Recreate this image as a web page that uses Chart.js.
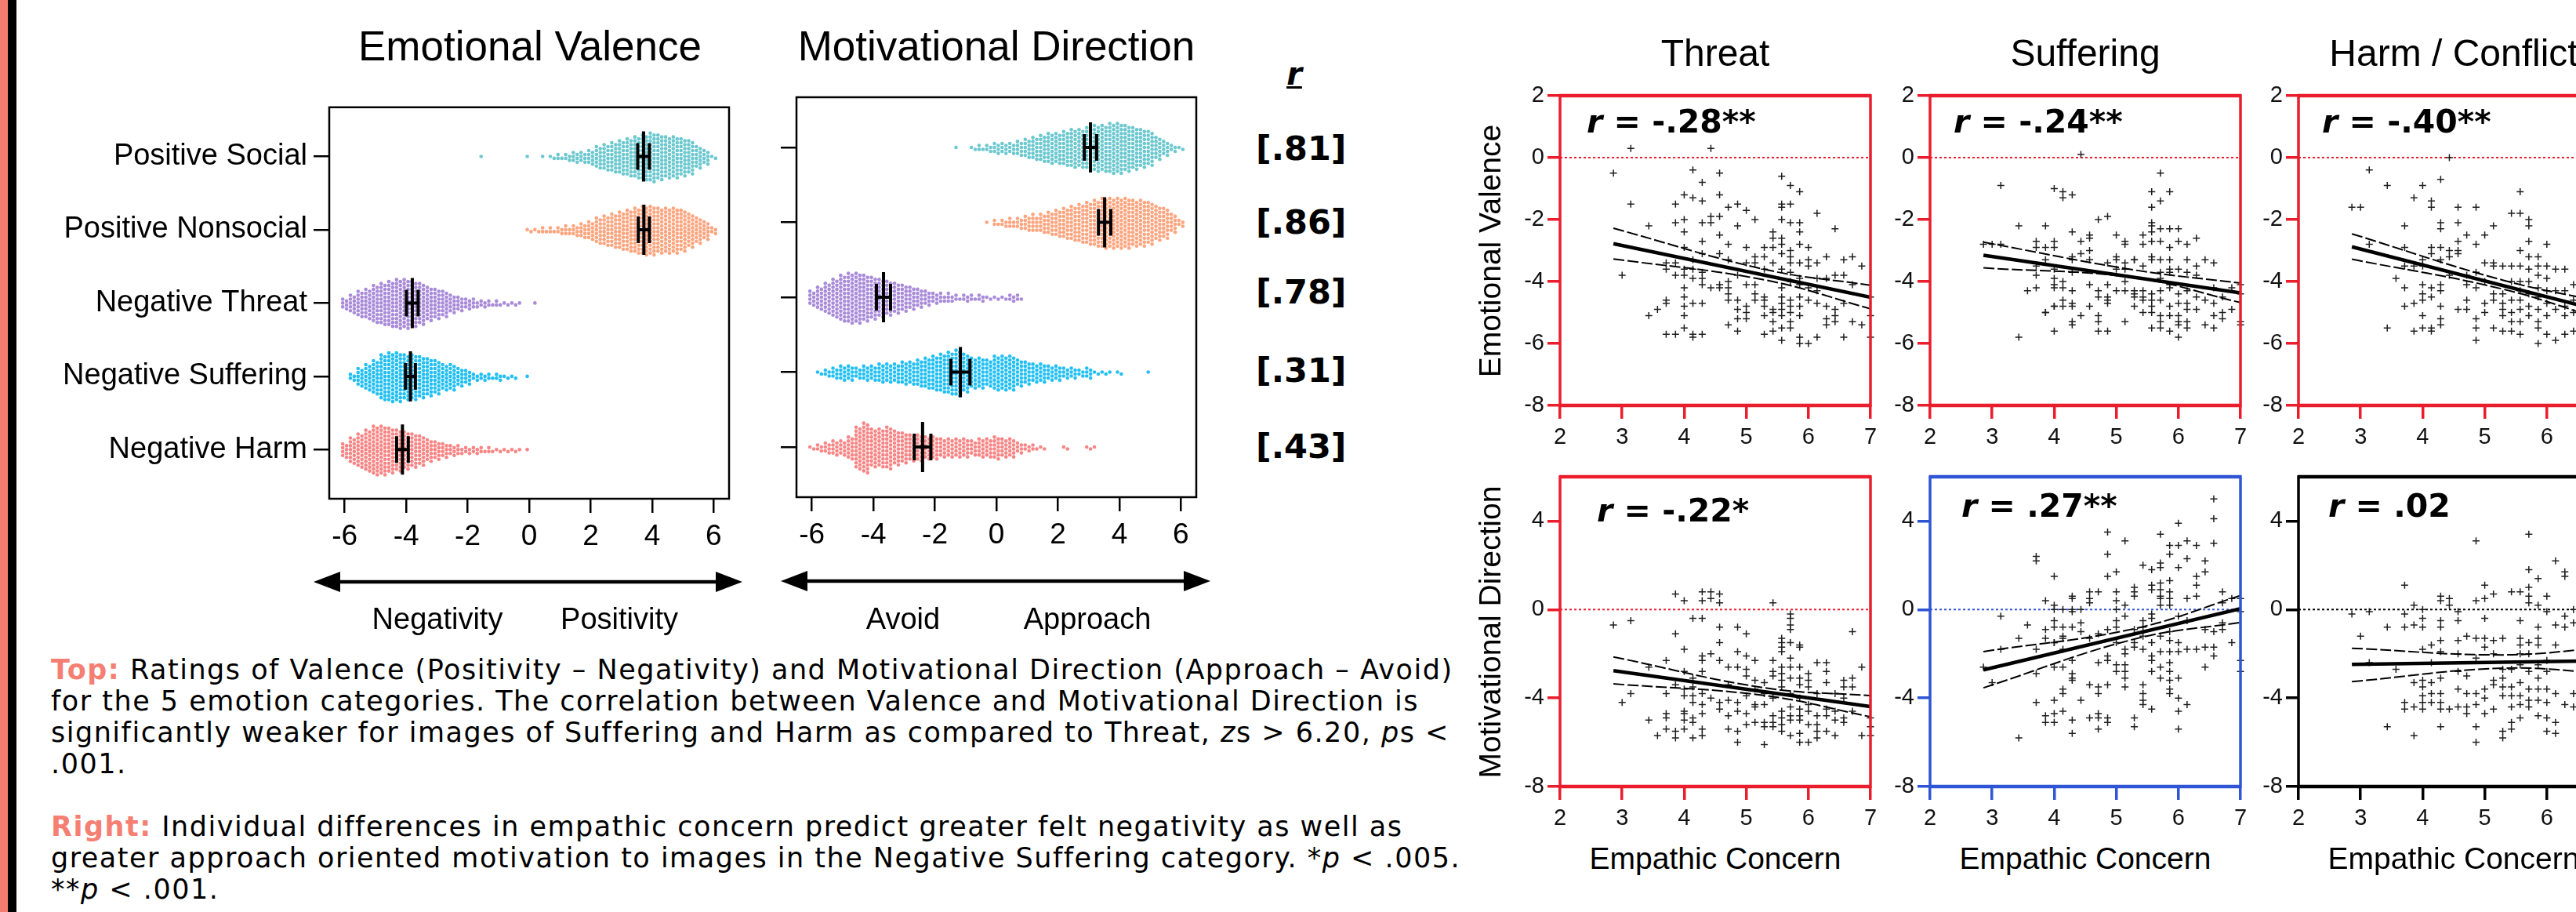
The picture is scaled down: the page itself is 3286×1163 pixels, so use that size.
<!DOCTYPE html>
<html lang="en">
<head>
<meta charset="UTF-8">
<title>Emotion ratings and empathic concern</title>
<script src="https://cdn.jsdelivr.net/npm/chart.js"></script>
<style>
  html, body { margin: 0; padding: 0; background: #fff; }
  body { width: 3286px; height: 1163px; position: relative; overflow: hidden;
         font-family: "Liberation Sans", Arial, sans-serif; color: #000; }
  canvas { position: absolute; }
  .t { position: absolute; white-space: nowrap; line-height: 1; }
  .c { transform: translateX(-50%); }
  .title { font-size: 53px; }
  .ptitle { font-size: 48px; }
  .pole { font-size: 38px; }
  .axlab { font-size: 39px; }
  .rot { font-size: 39px; transform: translate(-50%, -50%) rotate(-90deg); line-height: 1; }
  .rval { font-family: "DejaVu Sans", sans-serif; font-weight: bold; font-size: 43px; left: 1602px; }
  .rlab { font-family: "DejaVu Sans", sans-serif; font-weight: bold; font-size: 41px; }
  .caption { position: absolute; left: 65px; font-family: "DejaVu Sans", sans-serif;
             font-size: 35px; line-height: 40px; letter-spacing: 1.5px; white-space: nowrap; }
  .hl { color: #f47f72; font-weight: bold; }
</style>
</head>
<body>
  <div style="position:absolute;left:0;top:0;width:10px;height:1163px;background:#f47b70"></div>
  <div style="position:absolute;left:10px;top:0;width:11px;height:1163px;background:#000"></div>

  <canvas id="evChart" width="950" height="610" style="left:0;top:106px"></canvas>
  <canvas id="mdChart" width="570" height="610" style="left:976px;top:104px"></canvas>

  <div class="t c title" style="left:676px;top:32px">Emotional Valence</div>
  <div class="t c title" style="left:1271px;top:32px">Motivational Direction</div>

  <div class="t c" style="left:1651px;top:74px;font-family:'DejaVu Sans',sans-serif;font-size:40px;font-weight:bold;font-style:italic;text-decoration:underline;text-decoration-thickness:3px">r</div>
  <div class="t rval" style="top:168px">[.81]</div>
  <div class="t rval" style="top:262px">[.86]</div>
  <div class="t rval" style="top:351px">[.78]</div>
  <div class="t rval" style="top:451px">[.31]</div>
  <div class="t rval" style="top:548px">[.43]</div>

  <svg style="position:absolute;left:0;top:0" width="1600" height="800">
    <g fill="#000" stroke="#000">
      <line x1="430" y1="742" x2="917" y2="742" stroke-width="4.5"/>
      <polygon points="400,742 434,729 434,755" stroke="none"/>
      <polygon points="947,742 913,729 913,755" stroke="none"/>
      <line x1="1026" y1="741" x2="1514" y2="741" stroke-width="4.5"/>
      <polygon points="996,741 1030,728 1030,754" stroke="none"/>
      <polygon points="1544,741 1510,728 1510,754" stroke="none"/>
    </g>
  </svg>
  <div class="t c pole" style="left:558px;top:770px">Negativity</div>
  <div class="t c pole" style="left:790px;top:770px">Positivity</div>
  <div class="t c pole" style="left:1152px;top:770px">Avoid</div>
  <div class="t c pole" style="left:1387px;top:770px">Approach</div>

  <div class="caption" style="top:834px"><span class="hl">Top:</span> Ratings of Valence (Positivity – Negativity) and Motivational Direction (Approach – Avoid)<br>for the 5 emotion categories. The correlation between Valence and Motivational Direction is<br>significantly weaker for images of Suffering and Harm as compared to Threat, <i>z</i>s &gt; 6.20, <i>p</i>s &lt;<br>.001.</div>
  <div class="caption" style="top:1034px"><span class="hl">Right:</span> Individual differences in empathic concern predict greater felt negativity as well as<br>greater approach oriented motivation to images in the Negative Suffering category. *<i>p</i> &lt; .005.<br>**<i>p</i> &lt; .001.</div>

  <canvas id="p1" width="496" height="485" style="left:1920px;top:92px"></canvas>
  <canvas id="p2" width="496" height="485" style="left:2392px;top:92px"></canvas>
  <canvas id="p3" width="496" height="485" style="left:2862px;top:92px"></canvas>
  <canvas id="p4" width="496" height="485" style="left:1920px;top:578px"></canvas>
  <canvas id="p5" width="496" height="485" style="left:2392px;top:578px"></canvas>
  <canvas id="p6" width="496" height="485" style="left:2862px;top:578px"></canvas>

  <div class="t c ptitle" style="left:2188px;top:44px">Threat</div>
  <div class="t c ptitle" style="left:2660px;top:44px">Suffering</div>
  <div class="t c ptitle" style="left:3130px;top:44px">Harm / Conflict</div>

  <div class="t rot" style="left:1900px;top:320px">Emotional Valence</div>
  <div class="t rot" style="left:1900px;top:806px">Motivational Direction</div>

  <div class="t c axlab" style="left:2188px;top:1075px">Empathic Concern</div>
  <div class="t c axlab" style="left:2660px;top:1075px">Empathic Concern</div>
  <div class="t c axlab" style="left:3130px;top:1075px">Empathic Concern</div>

  <div class="t rlab" style="left:2024px;top:135px"><i>r</i> = -.28**</div>
  <div class="t rlab" style="left:2492px;top:135px"><i>r</i> = -.24**</div>
  <div class="t rlab" style="left:2962px;top:135px"><i>r</i> = -.40**</div>
  <div class="t rlab" style="left:2037px;top:631px"><i>r</i> = -.22*</div>
  <div class="t rlab" style="left:2502px;top:625px"><i>r</i> = .27**</div>
  <div class="t rlab" style="left:2970px;top:625px"><i>r</i> = .02</div>

<script>
// categories and colours of the beeswarm rows
const categories = ['Positive Social', 'Positive Nonsocial', 'Negative Threat', 'Negative Suffering', 'Negative Harm'];
const rowColors = ['#6cc8cf', '#fca57f', '#a98bd9', '#22bff2', '#f88585'];
const ratingTicks = [-6, -4, -2, 0, 2, 4, 6];

// beeswarm: number of images per 0.25-wide rating bin, first bin centre given separately
const binWidth = 0.25;
const evStarts = [-1.5, 0.0, -6.0, -5.75, -6.0];
const evPositiveSocial = [1,0,0,0,0,0,1,0,1,2,3,4,6,6,8,12,14,16,18,20,22,24,26,24,22,22,20,18,12,8,2];
const evPositiveNonsocial = [2,2,3,3,4,5,6,8,10,14,16,18,20,22,24,26,26,24,24,24,22,18,14,10,4];
const evNegativeThreat = [6,10,14,16,20,22,24,26,26,24,22,18,16,14,10,8,6,5,4,3,3,2,2,1,0,1];
const evNegativeSuffering = [4,10,14,18,24,26,26,24,24,22,20,18,14,14,10,8,4,4,3,4,2,2,0,1];
const evNegativeHarm = [8,14,18,22,26,26,24,22,20,18,16,12,10,8,6,5,4,4,3,3,2,2,2,1,1];
const evMeans = [3.72, 3.73, -3.80, -3.86, -4.12];
const evCI = [0.19, 0.18, 0.19, 0.16, 0.19];

const mdStarts = [-1.25, -0.25, -6.0, -5.75, -6.0];
const mdPositiveSocial = [1,0,2,3,4,6,6,6,8,10,12,14,16,16,18,20,20,22,24,24,26,26,24,22,20,18,12,8,4,2];
const mdPositiveNonsocial = [1,3,4,5,6,8,9,10,12,14,16,18,20,22,24,26,26,26,26,24,24,22,18,16,10,4];
const mdNegativeThreat = [8,12,16,20,24,26,26,24,22,20,18,16,14,12,10,8,6,5,5,3,4,3,4,2,2,2,4,3];
const mdNegativeSuffering = [2,4,6,8,8,6,8,8,10,10,10,12,12,14,16,18,20,22,24,20,16,16,14,18,18,18,14,12,10,10,8,8,6,6,4,6,2,2,1,2,0,0,0,1];
const mdNegativeHarm = [2,4,6,8,8,12,22,26,20,20,22,18,16,14,14,12,12,10,10,10,10,8,10,10,12,10,10,6,4,3,2,0,0,2,0,0,2,1];
const mdMeans = [3.06, 3.52, -3.67, -1.17, -2.40];
const mdCI = [0.20, 0.20, 0.23, 0.31, 0.27];

// scatter panels: each entry is [empathic concern, rating, rating, ...]
const ecTicks = [2, 3, 4, 5, 6, 7];
const valTicks = [2, 0, -2, -4, -6, -8];
const dirTicks = [4, 0, -4, -8];

const valThreat = [
  [2.86,-0.5],[3.0,-3.8],[3.14,0.3,-1.5],[3.43,-2.2,-5.1],[3.57,-4.9],
  [3.71,-3.4,-3.6,-4.6,-4.7,-5.7],[3.86,-1.5,-2.1,-3.4,-3.8,-5.7],
  [4.0,-1.2,-2.0,-2.4,-2.9,-3.6,-3.8,-4.2,-4.5,-4.8,-5.1,-5.5],
  [4.14,-0.4,-1.3,-3.3,-3.6,-3.9,-4.7,-5.7,-5.8],
  [4.29,-0.8,-1.4,-2.1,-2.7,-3.1,-3.7,-3.9,-4.1,-4.7,-5.7],
  [4.43,0.3,-1.9,-2.1,-4.2],[4.57,-0.5,-1.2,-1.9,-2.5,-3.1,-4.1,-4.2],
  [4.71,-1.6,-2.8,-3.3,-4.0,-4.2,-4.4,-4.6,-5.4],[4.86,-1.5,-2.2,-3.8,-4.6,-4.9,-5.2,-5.6],
  [5.0,-1.7,-2.9,-3.4,-4.1,-4.8,-5.0,-5.2],[5.14,-2.0,-3.2,-3.4,-4.1,-4.4,-4.6],
  [5.29,-2.9,-3.2,-3.6,-4.5,-4.6,-4.8,-5.1,-5.7],[5.43,-2.4,-2.6,-2.9,-3.4,-4.9,-5.0,-5.3,-5.6],
  [5.57,-0.6,-1.5,-1.6,-2.0,-2.6,-2.8,-3.1,-3.6,-4.2,-4.5,-4.7,-4.9,-5.1,-5.5,-5.9],
  [5.71,-0.9,-1.5,-2.1,-3.0,-3.2,-3.4,-3.7,-4.0,-4.6,-4.8,-5.0,-5.3,-5.5],
  [5.86,-1.1,-2.1,-2.4,-2.8,-3.4,-3.9,-4.1,-4.5,-4.8,-5.1,-5.8,-6.0],
  [6.0,-2.9,-3.3,-3.5,-4.2,-4.6,-6.0],[6.14,-1.8,-3.4,-3.9,-4.3,-4.7,-5.8],
  [6.29,-3.2,-3.9,-4.8,-5.2,-5.4],[6.43,-2.3,-3.8,-4.9,-5.1,-5.3],[6.57,-3.3,-3.8,-4.7,-5.8],
  [6.71,-3.2,-4.1,-5.3],[6.86,-3.5,-5.4],[7.0,-4.5,-5.1,-5.8]
];
const valSuffering = [
  [2.86,-2.8],[3.0,-2.8],[3.14,-0.9,-2.8],[3.43,-2.2,-5.8],[3.57,-4.3],
  [3.71,-2.7,-2.9,-3.5,-3.8,-4.2],[3.86,-2.2,-2.9,-3.3,-5.0,-5.0],
  [4.0,-1.0,-2.7,-2.9,-3.6,-3.9,-4.1,-4.2,-4.8,-4.8,-5.6],[4.14,-1.1,-1.3,-4.0,-4.2,-4.6,-4.8],
  [4.29,-1.2,-2.4,-3.2,-3.3,-3.7,-4.3,-4.7,-4.8,-5.3,-5.4],[4.43,0.1,-2.7,-3.1,-5.1],
  [4.57,-2.5,-2.6,-3.0,-3.3,-4.1,-4.8],[4.71,-2.0,-4.3,-4.5,-5.1,-5.3,-5.6],
  [4.86,-1.9,-3.4,-4.1,-4.5,-4.6,-4.7,-5.6],[5.0,-2.5,-3.2,-3.3,-3.6,-4.3],
  [5.14,-2.7,-2.8,-3.4,-3.6,-4.0,-4.3,-5.3],[5.29,-3.3,-3.3,-4.3,-4.4,-4.5,-4.8],
  [5.43,-2.5,-2.8,-3.5,-4.3,-4.5,-4.6,-5.0],
  [5.57,-1.1,-1.6,-2.1,-2.2,-2.4,-2.7,-3.2,-3.3,-4.4,-4.6,-4.8,-5.0,-5.5],
  [5.71,-0.5,-1.4,-2.3,-2.7,-3.3,-3.7,-3.9,-4.3,-4.6,-5.1,-5.3,-5.5],
  [5.86,-1.1,-2.3,-2.9,-3.3,-3.6,-3.7,-4.1,-4.2,-4.8,-5.1,-5.6],
  [6.0,-2.3,-2.7,-3.6,-4.4,-4.7,-5.1,-5.3,-5.4,-5.8],[6.14,-2.8,-3.3,-3.7,-4.3,-4.7,-4.9,-5.3,-5.5],
  [6.29,-2.6,-3.5,-3.8,-4.5,-4.9],[6.43,-3.3,-4.6,-5.4],[6.57,-3.4,-4.2,-4.7,-5.1,-5.5],
  [6.71,-4.5,-5.0,-5.2],[6.86,-4.2,-4.9],[7.0,-4.1,-4.4,-5.3,-5.4]
];
const valHarm = [
  [2.86,-1.6],[3.0,-1.6],[3.14,-0.4,-2.8],[3.43,-0.9,-5.5],[3.57,-3.9],
  [3.71,-2.2,-2.9,-3.5,-4.2,-4.8],[3.86,-1.3,-3.5,-4.7,-5.6],
  [4.0,-0.9,-3.3,-3.5,-4.1,-4.4,-4.6,-5.1,-5.5],[4.14,-1.4,-1.6,-2.9,-3.1,-4.2,-4.5,-5.5,-5.6],
  [4.29,-0.7,-2.1,-2.3,-2.9,-3.3,-4.1,-4.3,-4.8,-5.2,-5.4],[4.43,0.0,-3.0,-3.2,-3.8],
  [4.57,-1.6,-2.1,-2.7,-3.0,-3.1,-4.9],[4.71,-2.5,-3.8,-4.1,-4.6,-4.9],
  [4.86,-1.6,-2.8,-3.7,-4.2,-5.2,-5.5,-5.9],[5.0,-2.5,-3.4,-4.0,-4.7,-5.0],
  [5.14,-2.2,-3.4,-3.5,-4.4,-4.6,-5.5],[5.29,-3.5,-4.4,-4.7,-4.9,-5.1,-5.6],
  [5.43,-1.8,-3.5,-4.0,-4.6,-5.0,-5.3,-5.6],
  [5.57,-1.1,-1.8,-3.0,-3.5,-4.0,-4.3,-4.6,-4.9,-5.3,-5.7],
  [5.71,-2.0,-2.2,-2.7,-3.2,-3.6,-4.0,-4.4,-4.8,-5.1],
  [5.86,-3.2,-3.5,-3.8,-4.2,-4.5,-4.9,-5.3,-5.5,-6.0],
  [6.0,-2.8,-3.5,-3.9,-4.3,-4.7,-5.1,-5.7],[6.14,-3.6,-4.3,-4.9,-5.9],
  [6.29,-3.6,-4.3,-4.8,-5.1,-5.7],[6.43,-4.1,-4.6,-5.0,-5.6]
];
const dirThreat = [
  [2.86,-0.7],[3.0,-4.2],[3.14,-0.5,-3.8],[3.43,-2.6,-5.0],[3.57,-5.7],
  [3.71,-2.3,-3.8,-4.7,-4.9,-5.4],[3.86,0.7,-1.1,-3.4,-5.5,-5.8],
  [4.0,0.4,-1.8,-2.8,-3.6,-3.9,-4.6,-4.7,-5.0,-5.4],[4.14,-0.4,-3.1,-3.5,-3.9,-4.2,-4.9,-5.1,-5.8],
  [4.29,0.8,0.4,-0.4,-2.1,-2.3,-2.8,-3.8,-4.3,-4.7,-5.4,-5.7],[4.43,0.8,0.5,-2.0,-4.0],
  [4.57,0.7,0.3,-0.8,-1.5,-2.3,-4.2,-4.5],[4.71,-2.6,-3.4,-4.1,-4.8,-5.4],
  [4.86,-0.8,-1.9,-2.6,-4.2,-4.6,-5.5,-6.0],[5.0,-1.1,-2.1,-2.7,-3.0,-3.9,-4.7,-5.2],
  [5.14,-2.3,-3.2,-3.6,-4.3,-4.4,-5.1],[5.29,-3.3,-3.8,-4.3,-5.1,-5.3,-6.1],
  [5.43,0.3,-2.3,-2.8,-3.0,-4.0,-4.8,-5.1,-5.3],
  [5.57,-1.3,-1.5,-1.7,-1.9,-2.6,-2.9,-3.2,-3.5,-4.6,-4.9,-5.2,-5.5],
  [5.71,-0.2,-0.4,-0.7,-0.9,-1.5,-2.2,-2.6,-3.1,-3.8,-4.4,-4.8,-5.0,-5.7],
  [5.86,-1.6,-1.7,-2.6,-3.1,-3.4,-4.0,-4.5,-4.8,-5.0,-5.6,-6.0],
  [6.0,-2.9,-3.2,-3.5,-4.3,-4.6,-5.2,-6.0],[6.14,-2.4,-3.8,-4.8,-5.2,-5.5,-5.8],
  [6.29,-2.4,-2.8,-3.3,-4.5,-4.8,-5.5],[6.43,-3.8,-4.6,-5.0,-5.7],[6.57,-3.2,-3.5,-4.0,-4.9,-5.1],
  [6.71,-1.0,-3.1,-3.5,-4.6],[6.86,-2.6,-5.7],[7.0,-4.9,-5.3,-5.7]
];
const dirSuffering = [
  [2.86,-2.6],[3.0,-3.3],[3.14,-0.3,-1.8],[3.43,-1.3,-5.8],[3.57,-0.7],
  [3.71,2.4,2.2,-1.8,-2.9,-4.2],[3.86,0.4,-0.9,-1.3,-4.8,-5.1],
  [4.0,1.5,0.2,0.0,-0.5,-0.8,-1.5,-1.5,-2.6,-4.1,-4.7,-5.1],
  [4.14,0.0,-0.8,-1.2,-1.3,-1.8,-2.6,-3.6,-3.8,-4.6],
  [4.29,0.6,0.5,0.0,-0.1,-0.8,-2.3,-2.9,-3.1,-3.2,-5.0,-5.6],[4.43,0.0,-0.6,-1.0,-4.1],
  [4.57,0.8,0.5,0.3,-1.3,-3.4,-4.9],[4.71,0.8,-1.1,-2.4,-3.5,-3.8,-4.7,-4.9,-5.4],
  [4.86,3.5,2.5,1.5,-0.9,-2.1,-2.3,-3.4,-4.9,-5.1],[5.0,1.7,0.8,0.4,0.0,-0.5,-0.8,-1.5,-2.5,-2.8],
  [5.14,3.1,0.2,-0.3,-1.8,-2.0,-2.5,-2.8,-3.1,-3.5],[5.29,1.0,0.8,0.6,-0.9,-1.5,-1.7,-4.9,-5.3],
  [5.43,2.0,-0.5,-0.8,-1.2,-1.8,-3.4,-3.8,-4.1,-4.3],
  [5.57,1.8,1.1,0.9,-0.2,-0.4,-1.5,-2.1,-2.3,-2.8,-4.5],
  [5.71,3.4,2.1,1.9,1.2,0.9,0.6,0.5,0.2,-1.2,-1.9,-2.6,-3.1],
  [5.86,2.9,2.5,1.3,0.8,0.5,0.2,-1.0,-1.4,-1.9,-2.4,-2.8,-3.2,-3.6,-3.8],
  [6.0,3.9,2.9,1.9,-0.3,-1.5,-1.9,-3.1,-4.0,-4.6,-5.4],[6.14,3.1,2.3,0.5,-0.5,-1.8,-4.3],
  [6.29,2.9,1.5,1.1,0.6,-1.8],[6.43,2.2,1.7,-0.9,-1.7,-2.6],[6.57,5.0,4.1,3.0,-1.0,-1.7,-2.1],
  [6.71,0.8,0.3,-0.6,-0.9],[6.86,0.5,-1.5],[7.0,0.5,-0.1,-2.3,-2.8]
];
const dirHarm = [
  [2.86,-0.2],[3.0,-1.2],[3.14,-0.1,-2.4],[3.43,-0.8,-5.3],[3.57,-2.7],
  [3.71,1.1,-0.2,-0.8,-4.2,-4.5],[3.86,0.2,-0.7,-3.3,-4.4,-5.7],
  [4.0,0.0,-0.4,-0.8,-1.8,-3.2,-3.5,-3.9,-4.2,-4.5],[4.14,-1.6,-2.4,-3.3,-3.8,-4.2],
  [4.29,0.6,0.4,-0.5,-0.8,-1.4,-1.9,-3.1,-3.8,-4.2,-4.5,-5.3],[4.43,0.5,0.2,-4.5],
  [4.57,-0.1,-0.5,-1.4,-2.0,-2.8,-3.6,-4.4],[4.71,-1.2,-3.0,-3.8,-4.4,-4.7],
  [4.86,3.1,0.4,-1.3,-2.2,-3.8,-4.3,-5.3,-6.0],[5.0,1.1,0.5,-0.4,-1.3,-1.7,-3.6,-4.0,-4.7],
  [5.14,0.7,-1.4,-2.0,-3.2,-3.4,-4.5],[5.29,-1.3,-2.7,-3.1,-3.5,-3.9,-5.5,-5.8],
  [5.43,0.8,-2.7,-3.5,-3.9,-4.4,-5.1,-5.4],
  [5.57,0.8,-0.5,-1.3,-1.6,-2.0,-2.5,-3.3,-3.9,-4.3,-4.9],
  [5.71,3.4,1.8,1.0,0.6,0.3,-1.5,-2.0,-2.8,-3.6,-4.1,-4.4],
  [5.86,1.4,0.2,-0.8,-1.3,-1.6,-2.5,-3.1,-3.6,-4.1,-4.8],
  [6.0,0.6,-0.1,-2.3,-2.8,-3.6,-4.2,-4.9,-5.5],[6.14,2.2,-0.7,-1.6,-3.8,-5.1,-5.6],
  [6.29,1.7,1.5,-0.3,-0.8,-4.3],[6.43,0.0,-0.6,-3.8,-4.4]
];

// regression lines (read at the ends) and confidence bands
const fitX = [2.86, 7.0];
const ciX = [2.86, 5.3, 7.0];
const fitValThreat = [-2.78, -4.51], ciHiValThreat = [-2.28, -3.61, -4.12], ciLoValThreat = [-3.27, -3.95, -4.88];
const fitValSuffering = [-3.15, -4.37], ciHiValSuffering = [-2.73, -3.63, -4.05], ciLoValSuffering = [-3.56, -3.88, -4.68];
const fitValHarm = [-2.88, -5.01], ciHiValHarm = [-2.46, -3.96, -4.70], ciLoValHarm = [-3.28, -4.25, -5.30];
const fitDirThreat = [-2.76, -4.39], ciHiDirThreat = [-2.14, -3.54, -3.89], ciLoDirThreat = [-3.36, -3.89, -4.85];
const fitDirSuffering = [-2.73, 0.04], ciHiDirSuffering = [-1.90, -0.86, 0.63], ciLoDirSuffering = [-3.54, -1.33, -0.58];
const fitDirHarm = [-2.48, -2.31], ciHiDirHarm = [-1.75, -2.05, -1.70], ciLoDirHarm = [-3.26, -2.65, -2.90];

const RED = '#ea1d2c', BLUE = '#2f55d4', BLACK = '#000';

Chart.defaults.font.family = '"Liberation Sans", Arial, sans-serif';
Chart.defaults.color = '#000';

// --- plugins ---
const framePlugin = {
  id: 'frame',
  afterDraw(chart, args, opts) {
    const { ctx, chartArea: a } = chart;
    ctx.save();
    ctx.strokeStyle = opts.color;
    ctx.lineWidth = opts.width;
    ctx.strokeRect(a.left, a.top, a.right - a.left, a.bottom - a.top);
    if (opts.hWidth) {
      ctx.lineWidth = opts.hWidth;
      ctx.beginPath();
      ctx.moveTo(a.left - 1, a.top); ctx.lineTo(a.right + 1, a.top);
      ctx.moveTo(a.left - 1, a.bottom); ctx.lineTo(a.right + 1, a.bottom);
      ctx.stroke();
    }
    ctx.restore();
  }
};

const zeroLinePlugin = {
  id: 'zeroLine',
  beforeDatasetsDraw(chart, args, opts) {
    const { ctx, chartArea: a, scales: { y } } = chart;
    const py = y.getPixelForValue(0);
    ctx.save();
    ctx.setLineDash([3, 3]);
    ctx.lineWidth = 2;
    ctx.strokeStyle = opts.color;
    ctx.beginPath();
    ctx.moveTo(a.left, py);
    ctx.lineTo(a.right, py);
    ctx.stroke();
    ctx.restore();
  }
};

const meanBarPlugin = {
  id: 'meanBars',
  afterDatasetsDraw(chart, args, opts) {
    const { ctx, scales: { x, y } } = chart;
    ctx.save();
    ctx.strokeStyle = '#000';
    ctx.lineWidth = 4;
    opts.means.forEach((m, i) => {
      const cy = y.getPixelForValue(i + 1);
      const cx = x.getPixelForValue(m);
      const lo = x.getPixelForValue(m - opts.cis[i]);
      const hi = x.getPixelForValue(m + opts.cis[i]);
      ctx.beginPath();
      ctx.moveTo(cx, cy - 32); ctx.lineTo(cx, cy + 32);
      ctx.moveTo(lo, cy); ctx.lineTo(hi, cy);
      ctx.moveTo(lo, cy - 17); ctx.lineTo(lo, cy + 17);
      ctx.moveTo(hi, cy - 17); ctx.lineTo(hi, cy + 17);
      ctx.stroke();
    });
    ctx.restore();
  }
};

// --- beeswarm charts ---
const dotGap = 0.053; // vertical spacing of stacked dots, in row units

function swarmPoints(start, counts, row) {
  const pts = [];
  counts.forEach((n, b) => {
    const centre = start + b * binWidth;
    [Math.ceil(n / 2), Math.floor(n / 2)].forEach((m, side) => {
      // the second column sits half a step lower, like a packed swarm
      const shift = side ? dotGap / 2 : 0;
      for (let j = 0; j < m; j++) {
        pts.push({
          x: centre + (side ? 1 : -1) * binWidth / 4,
          y: row + (j - (m - 1) / 2) * dotGap + shift
        });
      }
    });
  });
  return pts;
}

function swarmChart(id, rows, starts, means, cis, showLabels, yAxisWidth) {
  return new Chart(document.getElementById(id), {
    type: 'scatter',
    data: {
      datasets: rows.map((counts, i) => ({
        data: swarmPoints(starts[i], counts, i + 1),
        backgroundColor: rowColors[i],
        borderWidth: 0,
        pointRadius: 2.3
      }))
    },
    options: {
      responsive: false,
      animation: false,
      events: [],
      layout: { padding: { left: 0, top: 20, right: 20, bottom: 0 } },
      plugins: {
        legend: { display: false },
        tooltip: { enabled: false },
        frame: { color: '#000', width: 2.5 },
        meanBars: { means: means, cis: cis }
      },
      scales: {
        x: {
          type: 'linear', min: -6.5, max: 6.5,
          afterBuildTicks: s => { s.ticks = ratingTicks.map(v => ({ value: v })); },
          afterFit: s => { s.height = 80; },
          grid: { drawOnChartArea: false, tickLength: 18, color: '#000', lineWidth: 2.5 },
          border: { display: false },
          ticks: { font: { size: 37 }, padding: 9, maxRotation: 0 }
        },
        y: {
          type: 'linear', min: 0.33, max: 5.67, reverse: true,
          afterBuildTicks: s => { s.ticks = [1, 2, 3, 4, 5].map(v => ({ value: v })); },
          afterFit: s => { s.width = yAxisWidth; },
          grid: { drawOnChartArea: false, tickLength: 20, color: '#000', lineWidth: 2.5 },
          border: { display: false },
          ticks: { display: showLabels, font: { size: 38 }, padding: 8,
                   callback: v => categories[v - 1] }
        }
      }
    },
    plugins: [framePlugin, meanBarPlugin]
  });
}

swarmChart('evChart',
  [evPositiveSocial, evPositiveNonsocial, evNegativeThreat, evNegativeSuffering, evNegativeHarm],
  evStarts, evMeans, evCI, true, 420);
swarmChart('mdChart',
  [mdPositiveSocial, mdPositiveNonsocial, mdNegativeThreat, mdNegativeSuffering, mdNegativeHarm],
  mdStarts, mdMeans, mdCI, false, 40);

// --- scatter panels ---
function toPoints(cols) {
  return cols.flatMap(col => col.slice(1).map(v => ({ x: col[0], y: v })));
}

function scatterPanel(id, cols, fit, ciHi, ciLo, color, yMin, yMax, yTicks) {
  const band = vals => ({
    type: 'line', showLine: true, data: ciX.map((x, i) => ({ x: x, y: vals[i] })),
    borderColor: '#000', borderWidth: 2, borderDash: [14, 4], pointRadius: 0, tension: 0.4, clip: 0
  });
  return new Chart(document.getElementById(id), {
    type: 'scatter',
    data: {
      datasets: [
        { type: 'line', showLine: true, data: fitX.map((x, i) => ({ x: x, y: fit[i] })),
          borderColor: '#000', borderWidth: 4.5, pointRadius: 0, clip: 0 },
        band(ciHi),
        band(ciLo),
        { data: toPoints(cols), pointStyle: 'cross', pointRadius: 4.5,
          borderColor: '#1e1e1e', borderWidth: 1.5, clip: 6 }
      ]
    },
    options: {
      responsive: false,
      animation: false,
      events: [],
      layout: { padding: { left: 0, top: 30, right: 30, bottom: 0 } },
      plugins: {
        legend: { display: false },
        tooltip: { enabled: false },
        frame: { color: color, width: 3.5, hWidth: 4.5 },
        zeroLine: { color: color }
      },
      scales: {
        x: {
          type: 'linear', min: 2, max: 7,
          afterBuildTicks: s => { s.ticks = ecTicks.map(v => ({ value: v })); },
          afterFit: s => { s.height = 60; },
          grid: { drawOnChartArea: false, tickLength: 17, color: color, lineWidth: 3.5 },
          border: { display: false },
          ticks: { font: { size: 29 }, padding: 7, maxRotation: 0, color: '#111' }
        },
        y: {
          type: 'linear', min: yMin, max: yMax,
          afterBuildTicks: s => { s.ticks = yTicks.map(v => ({ value: v })); },
          afterFit: s => { s.width = 70; },
          grid: { drawOnChartArea: false, tickLength: 16, color: color, lineWidth: 3.5 },
          border: { display: false },
          ticks: { font: { size: 29 }, padding: 4, color: '#111' }
        }
      }
    },
    plugins: [zeroLinePlugin, framePlugin]
  });
}

scatterPanel('p1', valThreat, fitValThreat, ciHiValThreat, ciLoValThreat, RED, -8, 2, valTicks);
scatterPanel('p2', valSuffering, fitValSuffering, ciHiValSuffering, ciLoValSuffering, RED, -8, 2, valTicks);
scatterPanel('p3', valHarm, fitValHarm, ciHiValHarm, ciLoValHarm, RED, -8, 2, valTicks);
scatterPanel('p4', dirThreat, fitDirThreat, ciHiDirThreat, ciLoDirThreat, RED, -8, 6, dirTicks);
scatterPanel('p5', dirSuffering, fitDirSuffering, ciHiDirSuffering, ciLoDirSuffering, BLUE, -8, 6, dirTicks);
scatterPanel('p6', dirHarm, fitDirHarm, ciHiDirHarm, ciLoDirHarm, BLACK, -8, 6, dirTicks);
</script>
</body>
</html>
